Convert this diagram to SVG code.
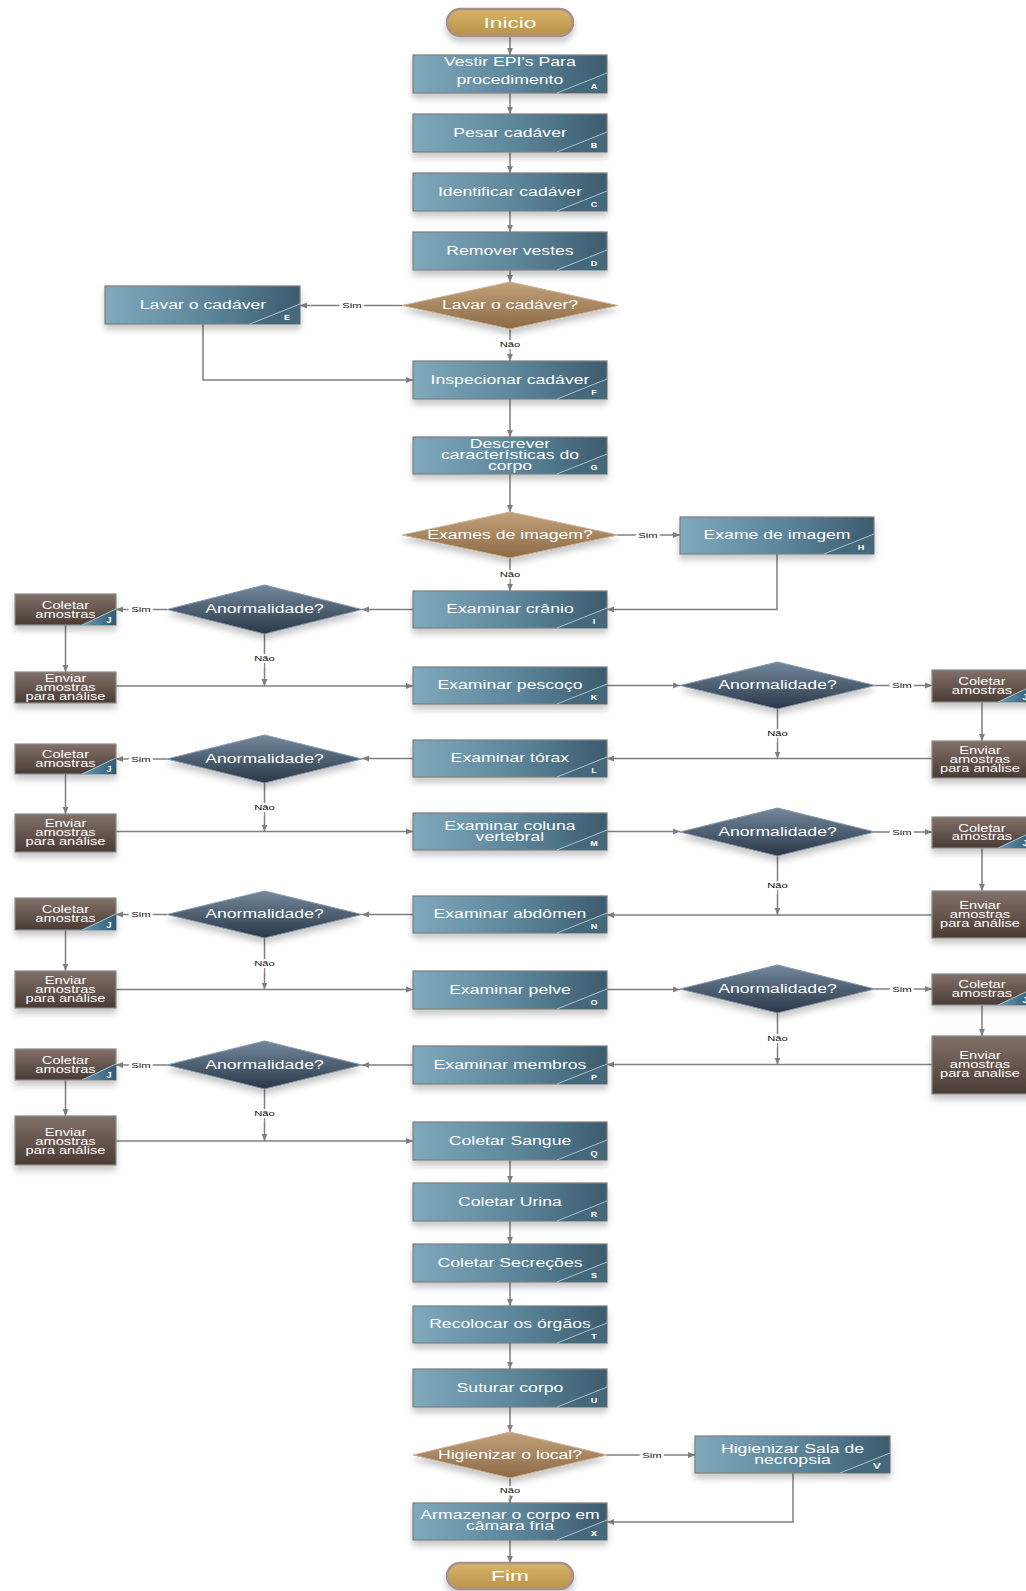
<svg xmlns="http://www.w3.org/2000/svg" width="1026" height="1591" viewBox="0 0 1026 1591">
<defs>
<linearGradient id="gb" x1="0" y1="0" x2="1" y2="0"><stop offset="0" stop-color="#80a9be"/><stop offset="0.55" stop-color="#5b8499"/><stop offset="1" stop-color="#3c5b6e"/></linearGradient>
<linearGradient id="gbr" x1="0" y1="0" x2="0" y2="1"><stop offset="0" stop-color="#827169"/><stop offset="1" stop-color="#4a3b34"/></linearGradient>
<linearGradient id="gt" x1="0" y1="0" x2="0" y2="1"><stop offset="0" stop-color="#c2a17a"/><stop offset="1" stop-color="#8c6a47"/></linearGradient>
<linearGradient id="gd" x1="0" y1="0" x2="0" y2="1"><stop offset="0" stop-color="#74889c"/><stop offset="1" stop-color="#293747"/></linearGradient>
<linearGradient id="gp" x1="0" y1="0" x2="0" y2="1"><stop offset="0" stop-color="#d8b468"/><stop offset="1" stop-color="#b8924a"/></linearGradient>
<linearGradient id="gc" x1="0" y1="0" x2="1" y2="0"><stop offset="0" stop-color="#6a9ab3"/><stop offset="1" stop-color="#2f5a72"/></linearGradient>
<filter id="sh" x="-10%" y="-20%" width="120%" height="170%"><feDropShadow dx="0" dy="5" stdDeviation="3" flood-color="#000" flood-opacity="0.22"/></filter>
<marker id="ar" markerWidth="8" markerHeight="8" refX="7" refY="4" orient="auto" markerUnits="userSpaceOnUse"><path d="M0,1 L7,4 L0,7 Z" fill="#7f7f7f"/></marker>
</defs>
<style>
text{font-family:"Liberation Sans",Arial,sans-serif}
.bx{fill:url(#gb);stroke:#7d7d7d;stroke-width:1.2}
.br{fill:url(#gbr);stroke:#8a8a8a;stroke-width:1.2}
.dt{fill:url(#gt);stroke:#c9b394;stroke-width:1}
.dd{fill:url(#gd);stroke:#8797a8;stroke-width:1}
.pl{fill:url(#gp);stroke:#a89090;stroke-width:2.5}
.cn{fill:#46687b}
.cj{fill:url(#gc)}
.dg{fill:none;stroke:#a9c3d0;stroke-width:1}
.t{fill:#fff;font-size:12px;text-anchor:middle;transform-box:fill-box;transform-origin:center;transform:scaleX(1.47)}
.s{fill:#fff;font-size:10px;text-anchor:middle;transform-box:fill-box;transform-origin:center;transform:scaleX(1.47)}
.p{fill:#fff;font-size:15.5px;text-anchor:middle;transform-box:fill-box;transform-origin:center;transform:scaleX(1.47)}
.l{fill:#fff;font-size:7px;font-weight:bold;text-anchor:middle;transform-box:fill-box;transform-origin:center;transform:scaleX(1.3)}
.lj{fill:#fff;font-size:9.5px;font-weight:bold;text-anchor:middle}
.lb{fill:#111;font-size:8px;text-anchor:middle;stroke:#fff;stroke-width:4;paint-order:stroke;transform-box:fill-box;transform-origin:center;transform:scaleX(1.4)}
.c{fill:none;stroke:#7f7f7f;stroke-width:1.5;marker-end:url(#ar)}
</style>
<rect width="1026" height="1591" fill="#fff"/>

<g id="connectors">
<path class="c" d="M510,36.5 V55"/>
<path class="c" d="M510,93 V114"/>
<path class="c" d="M510,152 V173"/>
<path class="c" d="M510,211 V232"/>
<path class="c" d="M510,270 V282"/>
<path class="c" d="M402,305.5 H300"/>
<path class="c" d="M510,329 V361"/>
<path class="c" d="M203,324 V380 H413"/>
<path class="c" d="M510,399 V437"/>
<path class="c" d="M510,474 V512"/>
<path class="c" d="M618,535 H680"/>
<path class="c" d="M510,558 V591"/>
<path class="c" d="M777,554 V609.5 H607"/>
<path class="c" d="M413,609.5 H362"/>
<path class="c" d="M167,609.5 H116"/>
<path class="c" d="M65.5,625 V672"/>
<path class="c" d="M264.5,633 V686"/>
<path class="c" d="M116,686 H413"/>
<path class="c" d="M607,685.5 H680"/>
<path class="c" d="M875,685.5 H932"/>
<path class="c" d="M982,702 V741"/>
<path class="c" d="M777.5,709 V758.5"/>
<path class="c" d="M932,758.5 H607"/>
<path class="c" d="M413,758.5 H362"/>
<path class="c" d="M167,759 H116"/>
<path class="c" d="M65.5,774 V814"/>
<path class="c" d="M264.5,783 V831.5"/>
<path class="c" d="M116,831.5 H413"/>
<path class="c" d="M607,831.5 H680"/>
<path class="c" d="M875,832 H932"/>
<path class="c" d="M982,848 V891"/>
<path class="c" d="M777.5,856 V915"/>
<path class="c" d="M932,915 H607"/>
<path class="c" d="M413,914.5 H362"/>
<path class="c" d="M167,914.5 H116"/>
<path class="c" d="M65.5,930 V971"/>
<path class="c" d="M264.5,938 V989.5"/>
<path class="c" d="M116,989.5 H413"/>
<path class="c" d="M607,989.5 H680"/>
<path class="c" d="M875,989 H932"/>
<path class="c" d="M982,1005 V1036"/>
<path class="c" d="M777.5,1013 V1064.5"/>
<path class="c" d="M932,1064.5 H607"/>
<path class="c" d="M413,1065 H362"/>
<path class="c" d="M167,1065 H116"/>
<path class="c" d="M65.5,1080 V1116"/>
<path class="c" d="M264.5,1089 V1141"/>
<path class="c" d="M116,1141 H413"/>
<path class="c" d="M510,1160 V1183"/>
<path class="c" d="M510,1221 V1244"/>
<path class="c" d="M510,1282 V1306"/>
<path class="c" d="M510,1343 V1369"/>
<path class="c" d="M510,1407 V1432"/>
<path class="c" d="M607,1455 H695"/>
<path class="c" d="M510,1478 V1503"/>
<path class="c" d="M793,1473 V1522 H607"/>
<path class="c" d="M510,1540 V1563"/>
<text class="lb" x="352" y="308">Sim</text>
<text class="lb" x="510" y="347">Não</text>
<text class="lb" x="648" y="538">Sim</text>
<text class="lb" x="510" y="577">Não</text>
<text class="lb" x="141" y="612.5">Sim</text>
<text class="lb" x="264.5" y="661.5">Não</text>
<text class="lb" x="902" y="688.5">Sim</text>
<text class="lb" x="777.5" y="736.5">Não</text>
<text class="lb" x="141" y="762">Sim</text>
<text class="lb" x="264.5" y="810.5">Não</text>
<text class="lb" x="902" y="835">Sim</text>
<text class="lb" x="777.5" y="888">Não</text>
<text class="lb" x="141" y="917.5">Sim</text>
<text class="lb" x="264.5" y="966.5">Não</text>
<text class="lb" x="902" y="992">Sim</text>
<text class="lb" x="777.5" y="1041.5">Não</text>
<text class="lb" x="141" y="1068">Sim</text>
<text class="lb" x="264.5" y="1116.5">Não</text>
<text class="lb" x="652" y="1458">Sim</text>
<text class="lb" x="510" y="1493.5">Não</text>
</g>

<g id="inicio"><rect class="pl" x="447" y="9" width="126" height="27" rx="13.5" filter="url(#sh)"/><text class="p" x="510" y="28">Inicio</text></g>

<g id="A"><rect class="bx" x="413" y="55" width="194" height="38" filter="url(#sh)"/><path class="cn" d="M557,93 L607,73 V93 Z"/><path class="dg" d="M557,93 L607,73"/><text class="t" x="510"><tspan x="510" y="66">Vestir EPI's Para</tspan><tspan x="510" y="84">procedimento</tspan></text><text class="l" x="594" y="89">A</text></g>
<g id="B"><rect class="bx" x="413" y="114" width="194" height="38" filter="url(#sh)"/><path class="cn" d="M557,152 L607,132 V152 Z"/><path class="dg" d="M557,152 L607,132"/><text class="t" x="510" y="137">Pesar cadáver</text><text class="l" x="594" y="148">B</text></g>
<g id="C"><rect class="bx" x="413" y="173" width="194" height="38" filter="url(#sh)"/><path class="cn" d="M557,211 L607,191 V211 Z"/><path class="dg" d="M557,211 L607,191"/><text class="t" x="510" y="196">Identificar cadáver</text><text class="l" x="594" y="207">C</text></g>
<g id="D"><rect class="bx" x="413" y="232" width="194" height="38" filter="url(#sh)"/><path class="cn" d="M557,270 L607,250 V270 Z"/><path class="dg" d="M557,270 L607,250"/><text class="t" x="510" y="255">Remover vestes</text><text class="l" x="594" y="266">D</text></g>
<g id="dec-lavar"><path class="dt" d="M510,282 L618,305.5 L510,329 L402,305.5 Z" filter="url(#sh)"/><text class="t" x="510" y="309.5">Lavar o cadáver?</text></g>
<g id="E"><rect class="bx" x="105" y="286" width="195" height="38" filter="url(#sh)"/><path class="cn" d="M250,324 L300,304 V324 Z"/><path class="dg" d="M250,324 L300,304"/><text class="t" x="203" y="309">Lavar o cadáver</text><text class="l" x="287" y="320">E</text></g>
<g id="F"><rect class="bx" x="413" y="361" width="194" height="38" filter="url(#sh)"/><path class="cn" d="M557,399 L607,379 V399 Z"/><path class="dg" d="M557,399 L607,379"/><text class="t" x="510" y="384">Inspecionar cadáver</text><text class="l" x="594" y="395">F</text></g>
<g id="G"><rect class="bx" x="413" y="437" width="194" height="37" filter="url(#sh)"/><path class="cn" d="M557,474 L607,454 V474 Z"/><path class="dg" d="M557,474 L607,454"/><text class="t" x="510"><tspan x="510" y="448.5">Descrever</tspan><tspan x="510" y="459.5">características do</tspan><tspan x="510" y="470.5">corpo</tspan></text><text class="l" x="594" y="470">G</text></g>
<g id="dec-imagem"><path class="dt" d="M510,512 L618,535 L510,558 L402,535 Z" filter="url(#sh)"/><text class="t" x="510" y="539">Exames de imagem?</text></g>
<g id="H"><rect class="bx" x="680" y="517" width="194" height="37" filter="url(#sh)"/><path class="cn" d="M824,554 L874,534 V554 Z"/><path class="dg" d="M824,554 L874,534"/><text class="t" x="777" y="539.5">Exame de imagem</text><text class="l" x="861" y="550">H</text></g>
<g id="I"><rect class="bx" x="413" y="591" width="194" height="37" filter="url(#sh)"/><path class="cn" d="M557,628 L607,608 V628 Z"/><path class="dg" d="M557,628 L607,608"/><text class="t" x="510" y="613.5">Examinar crânio</text><text class="l" x="594" y="624">I</text></g>
<g id="dec-anorm-1"><path class="dd" d="M264.5,585 L362,609.5 L264.5,634 L167,609.5 Z" filter="url(#sh)"/><text class="t" x="264.5" y="613.5">Anormalidade?</text></g>
<g id="J-1"><rect class="br" x="15" y="594" width="101" height="31" filter="url(#sh)"/><path class="cj" d="M82,625 L116,609 V625 Z"/><path class="dg" d="M82,625 L116,609"/><text class="s" x="65.5"><tspan x="65.5" y="609">Coletar</tspan><tspan x="65.5" y="618">amostras</tspan></text><text class="lj" x="109" y="622.5">J</text></g>
<g id="env-1"><rect class="br" x="15" y="672" width="101" height="31" filter="url(#sh)"/><text class="s" x="65.5"><tspan x="65.5" y="682.5">Enviar</tspan><tspan x="65.5" y="691.5">amostras</tspan><tspan x="65.5" y="700.5">para análise</tspan></text></g>
<g id="K"><rect class="bx" x="413" y="667" width="194" height="37" filter="url(#sh)"/><path class="cn" d="M557,704 L607,684 V704 Z"/><path class="dg" d="M557,704 L607,684"/><text class="t" x="510" y="689.5">Examinar pescoço</text><text class="l" x="594" y="700">K</text></g>
<g id="dec-anorm-2"><path class="dd" d="M777.5,662 L875,685.5 L777.5,709 L680,685.5 Z" filter="url(#sh)"/><text class="t" x="777.5" y="689.5">Anormalidade?</text></g>
<g id="J-2"><rect class="br" x="932" y="670" width="100" height="32" filter="url(#sh)"/><path class="cj" d="M998,702 L1032,686 V702 Z"/><path class="dg" d="M998,702 L1032,686"/><text class="s" x="982"><tspan x="982" y="685">Coletar</tspan><tspan x="982" y="694">amostras</tspan></text><text class="lj" x="1025" y="699.5">J</text></g>
<g id="env-2"><rect class="br" x="932" y="741" width="100" height="37" filter="url(#sh)"/><text class="s" x="980"><tspan x="980" y="754">Enviar</tspan><tspan x="980" y="763">amostras</tspan><tspan x="980" y="772">para análise</tspan></text></g>
<g id="L"><rect class="bx" x="413" y="740" width="194" height="37" filter="url(#sh)"/><path class="cn" d="M557,777 L607,757 V777 Z"/><path class="dg" d="M557,777 L607,757"/><text class="t" x="510" y="762.5">Examinar tórax</text><text class="l" x="594" y="773">L</text></g>
<g id="dec-anorm-3"><path class="dd" d="M264.5,735 L362,759 L264.5,783 L167,759 Z" filter="url(#sh)"/><text class="t" x="264.5" y="763">Anormalidade?</text></g>
<g id="J-3"><rect class="br" x="15" y="744" width="101" height="30" filter="url(#sh)"/><path class="cj" d="M82,774 L116,758 V774 Z"/><path class="dg" d="M82,774 L116,758"/><text class="s" x="65.5"><tspan x="65.5" y="758.5">Coletar</tspan><tspan x="65.5" y="767.5">amostras</tspan></text><text class="lj" x="109" y="771.5">J</text></g>
<g id="env-3"><rect class="br" x="15" y="814" width="101" height="38" filter="url(#sh)"/><text class="s" x="65.5"><tspan x="65.5" y="827">Enviar</tspan><tspan x="65.5" y="836">amostras</tspan><tspan x="65.5" y="845">para análise</tspan></text></g>
<g id="M"><rect class="bx" x="413" y="813" width="194" height="37" filter="url(#sh)"/><path class="cn" d="M557,850 L607,830 V850 Z"/><path class="dg" d="M557,850 L607,830"/><text class="t" x="510"><tspan x="510" y="830.5">Examinar coluna</tspan><tspan x="510" y="841.5">vertebral</tspan></text><text class="l" x="594" y="846">M</text></g>
<g id="dec-anorm-4"><path class="dd" d="M777.5,808 L875,832 L777.5,856 L680,832 Z" filter="url(#sh)"/><text class="t" x="777.5" y="836">Anormalidade?</text></g>
<g id="J-4"><rect class="br" x="932" y="817" width="100" height="31" filter="url(#sh)"/><path class="cj" d="M998,848 L1032,832 V848 Z"/><path class="dg" d="M998,848 L1032,832"/><text class="s" x="982"><tspan x="982" y="831.5">Coletar</tspan><tspan x="982" y="840.5">amostras</tspan></text><text class="lj" x="1025" y="845.5">J</text></g>
<g id="env-4"><rect class="br" x="932" y="891" width="100" height="47" filter="url(#sh)"/><text class="s" x="980"><tspan x="980" y="909.5">Enviar</tspan><tspan x="980" y="918.5">amostras</tspan><tspan x="980" y="927.5">para análise</tspan></text></g>
<g id="N"><rect class="bx" x="413" y="896" width="194" height="37" filter="url(#sh)"/><path class="cn" d="M557,933 L607,913 V933 Z"/><path class="dg" d="M557,933 L607,913"/><text class="t" x="510" y="918.5">Examinar abdômen</text><text class="l" x="594" y="929">N</text></g>
<g id="dec-anorm-5"><path class="dd" d="M264.5,891 L362,914.5 L264.5,938 L167,914.5 Z" filter="url(#sh)"/><text class="t" x="264.5" y="918.5">Anormalidade?</text></g>
<g id="J-5"><rect class="br" x="15" y="898" width="101" height="32" filter="url(#sh)"/><path class="cj" d="M82,930 L116,914 V930 Z"/><path class="dg" d="M82,930 L116,914"/><text class="s" x="65.5"><tspan x="65.5" y="913">Coletar</tspan><tspan x="65.5" y="922">amostras</tspan></text><text class="lj" x="109" y="927.5">J</text></g>
<g id="env-5"><rect class="br" x="15" y="971" width="101" height="37" filter="url(#sh)"/><text class="s" x="65.5"><tspan x="65.5" y="984.5">Enviar</tspan><tspan x="65.5" y="993.5">amostras</tspan><tspan x="65.5" y="1002.5">para análise</tspan></text></g>
<g id="O"><rect class="bx" x="413" y="971" width="194" height="38" filter="url(#sh)"/><path class="cn" d="M557,1009 L607,989 V1009 Z"/><path class="dg" d="M557,1009 L607,989"/><text class="t" x="510" y="994">Examinar pelve</text><text class="l" x="594" y="1005">O</text></g>
<g id="dec-anorm-6"><path class="dd" d="M777.5,965 L875,989 L777.5,1013 L680,989 Z" filter="url(#sh)"/><text class="t" x="777.5" y="993">Anormalidade?</text></g>
<g id="J-6"><rect class="br" x="932" y="974" width="100" height="31" filter="url(#sh)"/><path class="cj" d="M998,1005 L1032,989 V1005 Z"/><path class="dg" d="M998,1005 L1032,989"/><text class="s" x="982"><tspan x="982" y="988.5">Coletar</tspan><tspan x="982" y="997.5">amostras</tspan></text><text class="lj" x="1025" y="1002.5">J</text></g>
<g id="env-6"><rect class="br" x="932" y="1036" width="100" height="58" filter="url(#sh)"/><text class="s" x="980"><tspan x="980" y="1059">Enviar</tspan><tspan x="980" y="1068">amostras</tspan><tspan x="980" y="1077">para analise</tspan></text></g>
<g id="P"><rect class="bx" x="413" y="1046" width="194" height="38" filter="url(#sh)"/><path class="cn" d="M557,1084 L607,1064 V1084 Z"/><path class="dg" d="M557,1084 L607,1064"/><text class="t" x="510" y="1069">Examinar membros</text><text class="l" x="594" y="1080">P</text></g>
<g id="dec-anorm-7"><path class="dd" d="M264.5,1041 L362,1065 L264.5,1089 L167,1065 Z" filter="url(#sh)"/><text class="t" x="264.5" y="1069">Anormalidade?</text></g>
<g id="J-7"><rect class="br" x="15" y="1049" width="101" height="31" filter="url(#sh)"/><path class="cj" d="M82,1080 L116,1064 V1080 Z"/><path class="dg" d="M82,1080 L116,1064"/><text class="s" x="65.5"><tspan x="65.5" y="1064.5">Coletar</tspan><tspan x="65.5" y="1073.5">amostras</tspan></text><text class="lj" x="109" y="1077.5">J</text></g>
<g id="env-7"><rect class="br" x="15" y="1116" width="101" height="49" filter="url(#sh)"/><text class="s" x="65.5"><tspan x="65.5" y="1136">Enviar</tspan><tspan x="65.5" y="1145">amostras</tspan><tspan x="65.5" y="1154">para análise</tspan></text></g>
<g id="Q"><rect class="bx" x="413" y="1122" width="194" height="38" filter="url(#sh)"/><path class="cn" d="M557,1160 L607,1140 V1160 Z"/><path class="dg" d="M557,1160 L607,1140"/><text class="t" x="510" y="1145">Coletar Sangue</text><text class="l" x="594" y="1156">Q</text></g>
<g id="R"><rect class="bx" x="413" y="1183" width="194" height="38" filter="url(#sh)"/><path class="cn" d="M557,1221 L607,1201 V1221 Z"/><path class="dg" d="M557,1221 L607,1201"/><text class="t" x="510" y="1206">Coletar Urina</text><text class="l" x="594" y="1217">R</text></g>
<g id="S"><rect class="bx" x="413" y="1244" width="194" height="38" filter="url(#sh)"/><path class="cn" d="M557,1282 L607,1262 V1282 Z"/><path class="dg" d="M557,1282 L607,1262"/><text class="t" x="510" y="1267">Coletar Secreções</text><text class="l" x="594" y="1278">S</text></g>
<g id="T"><rect class="bx" x="413" y="1306" width="194" height="37" filter="url(#sh)"/><path class="cn" d="M557,1343 L607,1323 V1343 Z"/><path class="dg" d="M557,1343 L607,1323"/><text class="t" x="510" y="1328.5">Recolocar os órgãos</text><text class="l" x="594" y="1339">T</text></g>
<g id="U"><rect class="bx" x="413" y="1369" width="194" height="38" filter="url(#sh)"/><path class="cn" d="M557,1407 L607,1387 V1407 Z"/><path class="dg" d="M557,1407 L607,1387"/><text class="t" x="510" y="1392">Suturar corpo</text><text class="l" x="594" y="1403">U</text></g>
<g id="dec-higienizar"><path class="dt" d="M510,1432 L607,1455 L510,1478 L413,1455 Z" filter="url(#sh)"/><text class="t" x="510" y="1459">Higienizar o local?</text></g>
<g id="V"><rect class="bx" x="695" y="1436" width="195" height="37" filter="url(#sh)"/><path class="cn" d="M840,1473 L890,1453 V1473 Z"/><path class="dg" d="M840,1473 L890,1453"/><text class="t" x="792.5"><tspan x="792.5" y="1453.5">Higienizar Sala de</tspan><tspan x="792.5" y="1464.5">necropsia</tspan></text><text class="l" x="877" y="1469.5" style="font-size:9px">V</text></g>
<g id="X"><rect class="bx" x="413" y="1503" width="194" height="37" filter="url(#sh)"/><path class="cn" d="M557,1540 L607,1520 V1540 Z"/><path class="dg" d="M557,1540 L607,1520"/><text class="t" x="510"><tspan x="510" y="1519.5">Armazenar o corpo em</tspan><tspan x="510" y="1530.5">câmara fria</tspan></text><text class="l" x="594" y="1536.5" style="font-size:9px">x</text></g>
<g id="fim"><rect class="pl" x="447" y="1563" width="126" height="26" rx="13" filter="url(#sh)"/><text class="p" x="510" y="1581.5">Fim</text></g>
</svg>
